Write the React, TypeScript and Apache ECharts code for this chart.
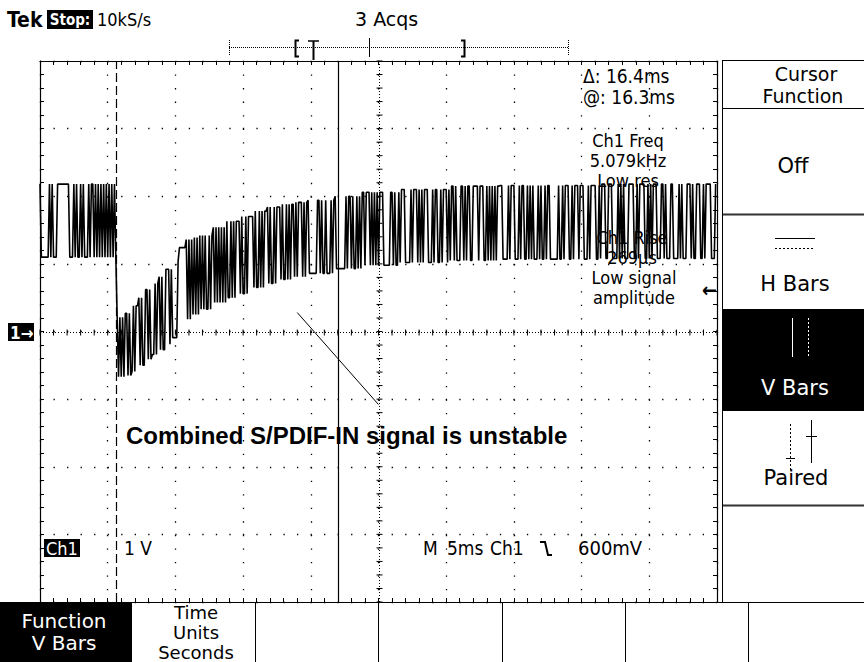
import React, { useEffect, useRef } from "react";
import * as echarts from "echarts";

// ---- scope settings ----
const X_MIN = 0; // ms from left edge of graticule
const X_MAX = 50; // 10 div x 5 ms
const X_DIV = 5;
const Y_MIN = -4; // volts, 1 V/div, ground at centre
const Y_MAX = 4;
const Y_DIV = 1;
const SAMPLE_MS = 0.1; // 10 kS/s
const N_SAMPLES = 500;

// cursors (ms)
const CURSOR_A = 5.65;
const CURSOR_B = 22.05;

// annotation pointer line [ms, V]
const POINTER_FROM = [19.0, 0.28];
const POINTER_TO = [25.0, -1.08];

// run lengths in samples, alternating high / low, starting high
const runsPre = [1, 6, 1, 1, 1, 3, 9, 3, 1, 1, 1, 2, 1, 1, 1, 3, 1, 1, 2, 1, 1, 1, 1, 1, 1, 1, 1, 1, 1, 1, 1, 1, 1, 1, 1, 1];
const runsPost = [
  1, 1, 1, 1, 1, 1,
  2, 1, 1, 2, 1, 1, 3, 1, 1, 2, 2, 1, 1, 3, 1, 1, 2, 1, 1, 2, 3, 1, 1,
  4, 7,
  1, 1, 1, 1, 1, 1, 1, 1, 1, 1, 1, 1, 1, 1,
  2, 1, 1, 2, 1, 1, 1, 1, 1, 1, 1, 1, 1, 1, 2, 1, 1, 1, 1,
  3, 1, 1, 2, 1, 1, 4, 1, 1, 2, 1, 1, 1, 1, 3, 1, 1, 2, 1, 1, 3, 1, 1, 2,
  1, 1, 1, 1, 2, 1, 1, 1, 3, 1, 1, 1, 2, 6,
  2, 1, 1, 2, 1, 3, 1, 1, 2,
  7, 1, 1, 2, 1, 1, 2, 1, 1, 1, 1, 2, 1, 3,
  1, 1, 1, 1, 1, 1, 1, 3, 5, 2, 1, 1, 2, 1, 1, 3, 4, 1, 1, 3, 1, 1, 1, 1, 1, 3, 3, 1, 1, 2,
  2, 1, 1, 3, 1, 1, 1, 2, 1, 1, 3, 2, 1, 1, 1, 2, 2, 4, 1, 3, 2, 1, 1, 1, 1, 1, 1, 1, 1, 4,
  4, 1, 1, 3, 3, 1, 1, 2, 2, 1, 1, 1, 1, 1, 3, 1, 1, 1, 2, 1, 1, 2,
  6, 1, 2, 1, 1, 3, 2, 1, 1, 3, 1, 3, 3, 1, 1, 4, 2, 1, 1, 3, 2, 3, 4, 1, 1, 1, 1, 1, 3, 4,
  2, 1, 1, 4, 2, 1, 1, 1, 1, 3, 3, 2, 1, 1, 3, 2, 4, 1, 1, 1, 3, 3, 1, 1, 2, 3, 2, 1, 1, 4,
  3, 1, 1, 3, 2, 4, 1, 1, 3, 2, 3, 1, 1, 2, 4, 2, 1, 1, 3, 3, 2, 1, 1, 2, 3,
];

// envelope of the trace (high / low level, V) read at these times (ms)
const envT = [0, 5.7, 6.3, 6.8, 7.3, 7.8, 8.3, 8.8, 9.3, 9.8, 10.3, 10.8, 11.3, 11.8, 12.8, 13.8, 14.8, 15.8, 16.8, 17.8, 18.8, 19.8, 21.8, 23.8, 26.6, 30.3, 34, 41.4];
const envHi = [2.18, 0.21, 0.27, 0.38, 0.5, 0.62, 0.71, 0.81, 0.92, 1.04, 1.24, 1.36, 1.39, 1.42, 1.54, 1.63, 1.7, 1.78, 1.84, 1.88, 1.91, 1.94, 2.0, 2.06, 2.1, 2.15, 2.16, 2.18];
const envLo = [1.1, -0.67, -0.65, -0.59, -0.5, -0.41, -0.34, -0.27, -0.19, -0.09, -0.03, 0.18, 0.25, 0.33, 0.43, 0.5, 0.56, 0.65, 0.71, 0.77, 0.81, 0.86, 0.93, 0.98, 1.02, 1.05, 1.07, 1.08];

function buildTrace(): number[][] {
  const levels: number[] = [];
  const runs = runsPre.concat(runsPost);
  runs.forEach((len, idx) => {
    for (let k = 0; k < len; k++) levels.push(idx % 2 === 0 ? 1 : 0);
  });
  const out: number[][] = [];
  for (let i = 0; i < N_SAMPLES; i++) {
    const t = i * SAMPLE_MS;
    let e = 0;
    for (let k = 0; k < envT.length; k++) if (envT[k] <= t + 1e-9) e = k;
    const bit = i < levels.length ? levels[i] : levels[levels.length - 1];
    out.push([t, bit ? envHi[e] : envLo[e]]);
  }
  return out;
}

const FS = '"DejaVu Sans Condensed", "DejaVu Sans", sans-serif';
const FM = '"DejaVu Sans", sans-serif';

function txt(text: string, x: number, y: number, o: any = {}) {
  return {
    type: "text",
    x,
    y,
    z: o.z ?? 20,
    silent: true,
    style: {
      text,
      fill: o.fill ?? "#000",
      fontSize: o.size ?? 18,
      fontFamily: o.family ?? FS,
      fontWeight: o.weight ?? "normal",
      textAlign: o.align ?? "left",
      verticalAlign: "middle",
    },
  };
}
function ln(x1: number, y1: number, x2: number, y2: number, o: any = {}) {
  return {
    type: "line",
    z: o.z ?? 20,
    silent: true,
    shape: { x1, y1, x2, y2 },
    style: { stroke: o.stroke ?? "#000", lineWidth: o.w ?? 1, lineDash: o.dash ?? null },
  };
}
function rc(x: number, y: number, w: number, h: number, o: any = {}) {
  return {
    type: "rect",
    z: o.z ?? 15,
    silent: true,
    shape: { x, y, width: w, height: h },
    style: { fill: o.fill ?? "#000", stroke: o.stroke ?? "none", lineWidth: o.w ?? 1 },
  };
}

export default function App() {
  const ref = useRef<HTMLDivElement>(null);
  useEffect(() => {
    if (!ref.current) return;
    const chart = echarts.init(ref.current, null, { renderer: "svg" });
    const trace = buildTrace();

    const axisCommon = {
      type: "value",
      axisLabel: { show: false },
      axisLine: { show: true, onZero: false, lineStyle: { color: "#000", width: 1.2 } },
      axisTick: { show: true, inside: true, length: 4, lineStyle: { color: "#000" } },
      minorTick: { show: true, splitNumber: 5, length: 4, lineStyle: { color: "#000" } },
    };

    const graphic: any[] = [
      // header
      txt("Tek", 7, 20, { size: 21, weight: "bold", family: '"Liberation Sans Narrow", "DejaVu Sans Condensed", sans-serif' }),
      rc(47, 10, 46, 19),
      txt("Stop:", 70, 20, { size: 15, weight: "bold", fill: "#fff", align: "center" }),
      txt("10kS/s", 97, 19, { size: 18 }),
      txt("3 Acqs", 355, 19, { size: 19, family: FM }),
      // record bar
      ln(229, 47.5, 568, 47.5, { dash: [1, 1] }),
      ln(229.5, 40, 229.5, 56, { dash: [1, 1] }),
      ln(568.5, 40, 568.5, 56, { dash: [1, 1] }),
      ln(369.5, 38, 369.5, 57),
      { type: "polyline", z: 20, silent: true, shape: { points: [[299, 40.5], [295.5, 40.5], [295.5, 56.5], [299, 56.5]] }, style: { stroke: "#000", lineWidth: 2, fill: "none" } },
      { type: "polyline", z: 20, silent: true, shape: { points: [[461, 40.5], [464.5, 40.5], [464.5, 56.5], [461, 56.5]] }, style: { stroke: "#000", lineWidth: 2, fill: "none" } },
      ln(308, 41, 319, 41, { w: 1.5 }),
      ln(313.5, 41, 313.5, 60, { w: 2 }),

      // readouts
      txt("\u0394: 16.4ms", 583, 76, { size: 19 }),
      txt("@: 16.3ms", 583, 97, { size: 19 }),
      txt("Ch1 Freq", 628, 140, { align: "center" }),
      txt("5.079kHz", 628, 160, { align: "center" }),
      txt("Low res", 628, 180, { align: "center" }),
      txt("Ch1 Rise", 632, 237, { align: "center", z: 0 }),
      txt("269\u00b5s", 632, 257, { align: "center", z: 0 }),
      txt("Low signal", 634, 277, { align: "center" }),
      txt("amplitude", 634, 297, { align: "center" }),
      txt("\u2190", 717, 290, { align: "right", weight: "bold", size: 20 }),

      // channel marker
      rc(8, 323, 26, 18),
      txt("1\u2192", 10, 332.5, { fill: "#fff", weight: "bold", size: 17 }),

      // annotation
      txt("Combined S/PDIF-IN signal is unstable", 126, 435, { size: 24, weight: "bold", family: '"Liberation Sans", Arial, sans-serif' }),

      // bottom readouts
      rc(44, 539, 36, 18),
      txt("Ch1", 46, 548, { fill: "#fff" }),
      txt("1 V", 124, 548, { size: 19 }),
      txt("M", 423, 548, { size: 19 }),
      txt("5ms", 447, 548, { size: 19 }),
      txt("Ch1", 490, 548, { size: 19 }),
      { type: "polyline", z: 20, silent: true, shape: { points: [[540, 542], [545, 542], [548, 555], [552, 555]] }, style: { stroke: "#000", lineWidth: 2, fill: "none" } },
      txt("600mV", 578, 548, { size: 20 }),

      // right menu
      ln(722.5, 60, 722.5, 602),
      rc(722.5, 60.5, 150, 48, { fill: "none", stroke: "#000" }),
      txt("Cursor", 806, 74, { align: "center", family: FM, size: 19 }),
      txt("Function", 803, 96, { align: "center", family: FM, size: 19 }),
      txt("Off", 793, 166, { align: "center", family: FM, size: 21 }),
      ln(723, 214.5, 864, 214.5, { w: 2, stroke: "#333" }),
      ln(775, 238.5, 815, 238.5),
      ln(775, 248.5, 815, 248.5, { dash: [2, 2] }),
      txt("H Bars", 795, 284, { align: "center", family: FM, size: 21 }),
      rc(723, 309, 141, 102),
      ln(792.5, 318, 792.5, 357, { stroke: "#fff" }),
      ln(808.5, 318, 808.5, 357, { stroke: "#fff", dash: [2, 2] }),
      txt("V Bars", 795, 388, { align: "center", family: FM, size: 21, fill: "#fff" }),
      ln(790.5, 424, 790.5, 470, { dash: [2, 2] }),
      ln(786, 458.5, 795, 458.5),
      ln(811.5, 420, 811.5, 463),
      ln(806, 436.5, 817, 436.5),
      txt("Paired", 796, 478, { align: "center", family: FM, size: 21 }),
      ln(723, 505.5, 864, 505.5, { w: 2, stroke: "#333" }),

      // bottom menu
      ln(0, 602.5, 864, 602.5),
      rc(0, 603, 132, 59),
      txt("Function", 64, 621, { align: "center", family: FM, size: 20, fill: "#fff" }),
      txt("V Bars", 64, 643, { align: "center", family: FM, size: 20, fill: "#fff" }),
      txt("Time", 196, 612, { align: "center", family: FM, size: 18 }),
      txt("Units", 196, 632, { align: "center", family: FM, size: 18 }),
      txt("Seconds", 196, 652, { align: "center", family: FM, size: 18 }),
      ln(255.5, 602, 255.5, 662),
      ln(378.5, 602, 378.5, 662),
      ln(502.5, 602, 502.5, 662),
      ln(625.5, 602, 625.5, 662),
      ln(748.5, 602, 748.5, 662),
    ];

    chart.setOption({
      animation: false,
      backgroundColor: "#fff",
      grid: { left: 40, top: 61, width: 677, height: 541, containLabel: false },
      xAxis: [
        {
          ...axisCommon,
          min: X_MIN,
          max: X_MAX,
          interval: X_DIV,
          position: "bottom",
          splitLine: { show: true, lineStyle: { color: "#000", width: 1.3, type: [1.3, 12.24] } },
        },
        { ...axisCommon, min: X_MIN, max: X_MAX, interval: X_DIV, position: "top", splitLine: { show: false } },
      ],
      yAxis: [
        {
          ...axisCommon,
          min: Y_MIN,
          max: Y_MAX,
          interval: Y_DIV,
          position: "left",
          splitLine: { show: true, lineStyle: { color: "#000", width: 1.3, type: [1.3, 12.225] } },
        },
        { ...axisCommon, min: Y_MIN, max: Y_MAX, interval: Y_DIV, position: "right", splitLine: { show: false } },
      ],
      graphic,
      series: [
        {
          type: "custom",
          silent: true,
          z: 1,
          data: [[0, 0]],
          renderItem: (_p: any, api: any) => {
            const ch: any[] = [];
            const a = api.coord([X_MIN, 0]);
            const b = api.coord([X_MAX, 0]);
            const c = api.coord([(X_MIN + X_MAX) / 2, Y_MAX]);
            const d = api.coord([(X_MIN + X_MAX) / 2, Y_MIN]);
            const yc = Math.round(a[1]) + 0.5;
            const xc = Math.round(c[0]) + 0.5;
            ch.push({ type: "line", shape: { x1: a[0], y1: yc, x2: b[0], y2: yc }, style: { stroke: "#000", lineWidth: 1, lineDash: [1, 2] } });
            ch.push({ type: "line", shape: { x1: xc, y1: c[1], x2: xc, y2: d[1] }, style: { stroke: "#000", lineWidth: 1, lineDash: [1, 2] } });
            for (let k = 0; k <= 50; k++) {
              const p = api.coord([X_MIN + (k * X_DIV) / 5, 0]);
              ch.push({ type: "line", shape: { x1: p[0], y1: yc - 3, x2: p[0], y2: yc + 3 }, style: { stroke: "#000", lineWidth: 1 } });
            }
            for (let k = 0; k <= 40; k++) {
              const p = api.coord([(X_MIN + X_MAX) / 2, Y_MIN + (k * Y_DIV) / 5]);
              ch.push({ type: "line", shape: { x1: xc - 3, y1: p[1], x2: xc + 3, y2: p[1] }, style: { stroke: "#000", lineWidth: 1 } });
            }
            return { type: "group", children: ch };
          },
        },
        {
          type: "line",
          data: trace,
          showSymbol: false,
          symbol: "none",
          z: 5,
          lineStyle: { color: "#000", width: 1.6 },
          silent: true,
          markLine: {
            silent: true,
            symbol: ["none", "none"],
            label: { show: false },
            data: [
              { xAxis: CURSOR_A, lineStyle: { color: "#000", width: 1.2, type: [9, 4] } },
              { xAxis: CURSOR_B, lineStyle: { color: "#000", width: 1.2, type: "solid" } },
              [
                { coord: POINTER_FROM, lineStyle: { color: "#000", width: 1, type: "solid" } },
                { coord: POINTER_TO },
              ],
            ],
          },
        },
      ],
    });
    return () => chart.dispose();
  }, []);
  return <div ref={ref} style={{ position: "fixed", left: 0, top: 0, width: 864, height: 662, background: "#fff" }} />;
}
